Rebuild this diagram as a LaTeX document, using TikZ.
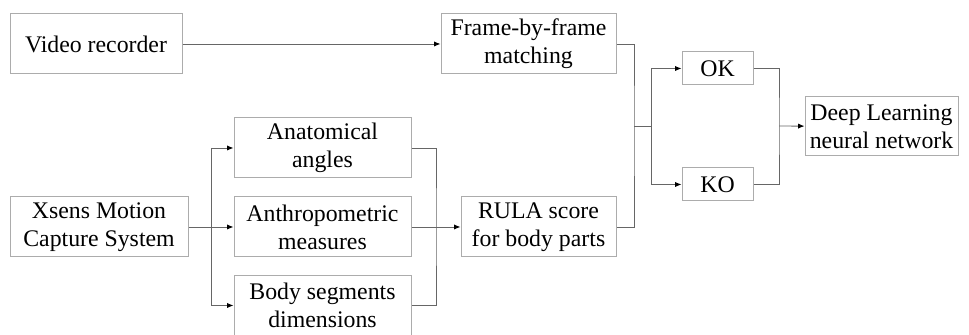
\documentclass[tikz,border=0pt]{standalone}
\usepackage{fontspec}
\setmainfont{Liberation Serif}
\usetikzlibrary{arrows.meta}
\tikzset{
  blk/.style={draw=gray!65, line width=0.5pt, align=center, inner sep=1pt,
    font=\fontsize{11.9}{14}\selectfont},
  wire/.style={draw=gray!80!black, line width=0.45pt},
  arr/.style={wire, -{Latex[length=3.2pt,width=2.6pt,black]}}
}
\begin{document}
\begin{tikzpicture}[x=0.5pt, y=0.5pt]
  \useasboundingbox (0, 0) rectangle (969, 335);
  % boxes
  \node [blk, minimum width=86pt, minimum height=30pt] (video) at (96, 291) {Video recorder};
  \node [blk, minimum width=87.5pt, minimum height=30pt] (frame) at (528.5, 291) {Frame-by-frame\\matching};
  \node [blk, minimum width=89pt, minimum height=30pt] (xsens) at (99, 108) {Xsens Motion\\Capture System};
  \node [blk, minimum width=88.5pt, minimum height=30pt] (anat) at (322.5, 187) {Anatomical\\angles};
  \node [blk, minimum width=88.5pt, minimum height=30pt] (anthro) at (322.5, 108) {Anthropometric\\measures};
  \node [blk, minimum width=88.5pt, minimum height=30pt] (body) at (322.5, 29.5) {Body segments\\dimensions};
  \node [blk, minimum width=77.5pt, minimum height=30pt] (rula) at (538.5, 108) {RULA score\\for body parts};
  \node [blk, minimum width=35.5pt, minimum height=16.5pt] (ok) at (717.5, 266.5) {OK};
  \node [blk, minimum width=35.5pt, minimum height=16.5pt] (ko) at (717.5, 150.5) {KO};
  \node [blk, minimum width=76.5pt, minimum height=29.5pt] (deep) at (881.5, 208.5) {Deep Learning\\neural network};
  % junction points
  \coordinate (split) at (211, 108);
  \coordinate (merge) at (436, 108);
  \coordinate (join) at (634, 209);
  \coordinate (fork) at (651, 209);
  \coordinate (gather) at (779, 209);
  % connectors
  \draw [arr] (video) -- (frame);
  \draw [wire] (xsens) -- (split);
  \draw [wire] (split |- anat) -- (split |- body);
  \draw [arr] (split) -- (anthro);
  \draw [arr] (split |- anat) -- (anat);
  \draw [arr] (split |- body) -- (body);
  \draw [wire] (anat) -| (merge) |- (body);
  \draw [arr] (anthro) -- (rula);
  \draw [wire] (frame) -| (join) |- (rula);
  \draw [wire] (join) -- (fork);
  \draw [wire] (fork |- ok) -- (fork |- ko);
  \draw [arr] (fork |- ok) -- (ok);
  \draw [arr] (fork |- ko) -- (ko);
  \draw [wire] (ok) -| (gather) |- (ko);
  \draw [arr] (gather) -- (deep);
\end{tikzpicture}
\end{document}
